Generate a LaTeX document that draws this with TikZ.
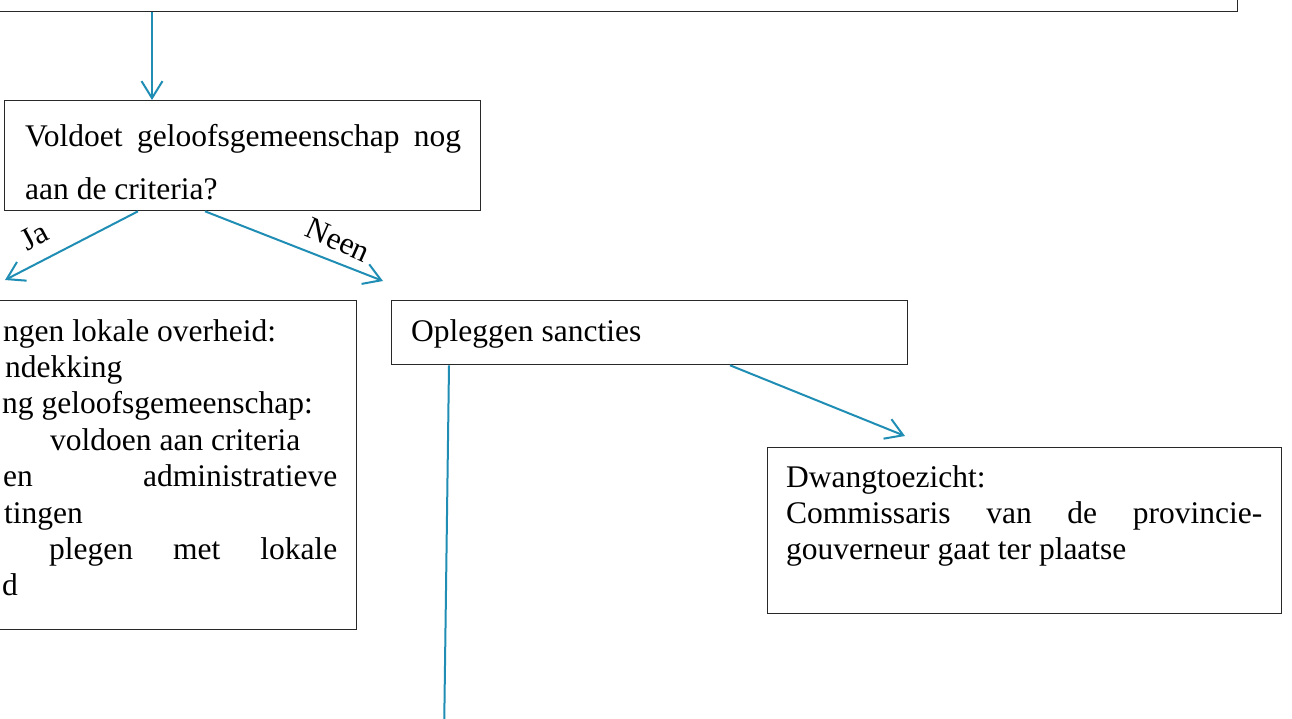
\documentclass[tikz,border=0pt]{standalone}
\usepackage{fontspec}
\setmainfont{Liberation Serif}
\usetikzlibrary{arrows.meta}
\definecolor{arr}{RGB}{32,142,180}
\definecolor{frame}{RGB}{40,40,40}
\begin{document}
\begin{tikzpicture}[x=1pt,y=-1pt,
  box/.style={draw=frame, line width=1.3pt, inner sep=0pt, anchor=north west},
  txt/.style={inner sep=0pt, anchor=base west, font=\fontsize{31.5}{36.4}\selectfont},
  conn/.style={draw=arr, line width=2pt, -{Straight Barb[length=17pt,width=21pt,line width=2pt]}},
  plain/.style={draw=arr, line width=2pt},
  lbl/.style={inner sep=0pt, font=\fontsize{31.5}{36.4}\selectfont}]
\useasboundingbox (0,0) rectangle (1292,718);
\clip (0,0) rectangle (1292,718);
\fill[white] (0,0) rectangle (1292,718);

% boxes
\node[box, minimum width=1300pt, minimum height=80pt] (top) at (-63,-69) {};
\node[box, minimum width=476pt, minimum height=110pt] (q) at (4,100) {};
\node[box, minimum width=416pt, minimum height=329pt] (ja) at (-60,300) {};
\node[box, minimum width=516pt, minimum height=64pt] (ops) at (391,300) {};
\node[box, minimum width=514pt, minimum height=166pt] (dw) at (767,447) {};

% texts
\node[txt] (q1) at (25,146) {\hbox to 436pt{Voldoet\hfill geloofsgemeenschap\hfill nog}};
\node[txt] (q2) at (25,199) {aan de criteria?};

\node[txt] (j1) at (3,341) {ngen lokale overheid:};
\node[txt] (j2) at (5,377.4) {ndekking};
\node[txt] (j3) at (2,413.8) {ng geloofsgemeenschap:};
\node[txt] (j4) at (50,450.2) {voldoen aan criteria};
\node[txt] (j5) at (3,486.6) {\hbox to 334pt{en\hfill administratieve}};
\node[txt] (j6) at (4,523) {tingen};
\node[txt] (j7) at (49,559.4) {\hbox to 288pt{plegen\hfill met\hfill lokale}};
\node[txt] (j8) at (2,595.8) {d};

\node[txt] (o1) at (411,341) {Opleggen sancties};

\node[txt] (d1) at (786,487) {Dwangtoezicht:};
\node[txt] (d2) at (786,523.4) {\hbox to 476pt{Commissaris\hfill van\hfill de\hfill provincie-}};
\node[txt] (d3) at (786,559.8) {gouverneur gaat ter plaatse};

% connector helpers
\coordinate (a1) at (152,0);
\coordinate (ja0) at (138,0);
\coordinate (jaend) at (5,280);
\coordinate (ne0) at (205,0);
\coordinate (neend) at (383,281);
\coordinate (dw0) at (730,0);
\coordinate (dwend) at (905,436);
\coordinate (dn0) at (449,0);
\coordinate (dnend) at (444,740);

\draw[conn] (top.south -| a1) -- (q.north -| a1);
\draw[conn] (q.south -| ja0) -- (jaend);
\draw[conn] (q.south -| ne0) -- (neend);
\draw[conn] (ops.south -| dw0) -- (dwend);
\draw[plain] (ops.south -| dn0) -- (dnend);

% labels
\node[lbl, rotate=28] (lja) at (34,236) {Ja};
\node[lbl, rotate=-24] (lne) at (338,240) {Neen};
\end{tikzpicture}
\end{document}
